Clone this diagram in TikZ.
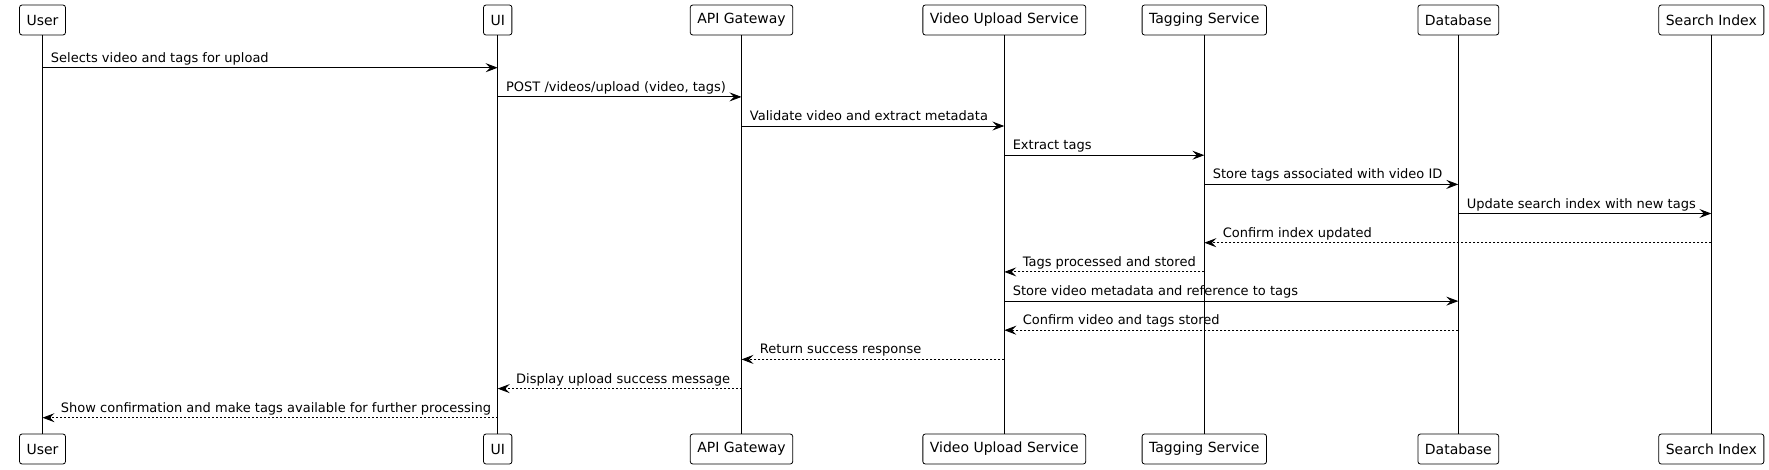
\documentclass[tikz,border=0pt]{standalone}
\usepackage{fontspec}
\setmainfont{DejaVu Sans}
\usetikzlibrary{arrows.meta}

\begin{document}
\begin{tikzpicture}[x=1pt, y=-1pt,
  actor/.style={draw, fill=white, rounded corners=2.5pt, minimum height=30pt, inner xsep=7pt, inner ysep=0pt, line width=0.8pt, font=\fontsize{14}{16}\selectfont},
  call/.style={-{Stealth[length=12pt, width=9pt, inset=4.5pt]}, line width=0.9pt},
  reply/.style={call, dash pattern=on 2pt off 2pt},
  fwd/.style={anchor=base west, inner sep=0pt, at start, xshift=8pt, yshift=5.5pt, font=\fontsize{13}{15}\selectfont},
  back/.style={anchor=base west, inner sep=0pt, at end, xshift=18pt, yshift=5.5pt, font=\fontsize{13}{15}\selectfont}]

\useasboundingbox (0,0) rectangle (1769,469);

\node [actor] (user) at (42.5,20) {User};
\node [actor] (ui) at (497.7,20) {UI};
\node [actor] (gw) at (741.5,20) {API Gateway};
\node [actor] (vus) at (1004.3,20) {Video Upload Service};
\node [actor] (tag) at (1204.3,20) {Tagging Service};
\node [actor] (db) at (1458.3,20) {Database};
\node [actor] (idx) at (1711.3,20) {Search Index};

\node [actor] (user2) at (42.5,449) {User};
\node [actor] (ui2) at (497.7,449) {UI};
\node [actor] (gw2) at (741.5,449) {API Gateway};
\node [actor] (vus2) at (1004.3,449) {Video Upload Service};
\node [actor] (tag2) at (1204.3,449) {Tagging Service};
\node [actor] (db2) at (1458.3,449) {Database};
\node [actor] (idx2) at (1711.3,449) {Search Index};

\draw [line width=0.8pt] (user) edge (user2);
\draw [line width=0.8pt] (ui) edge (ui2);
\draw [line width=0.8pt] (gw) edge (gw2);
\draw [line width=0.8pt] (vus) edge (vus2);
\draw [line width=0.8pt] (tag) edge (tag2);
\draw [line width=0.8pt] (db) edge (db2);
\draw [line width=0.8pt] (idx) edge (idx2);

\coordinate (m1) at (0,67.7);
\coordinate (m2) at (0,96.9);
\coordinate (m3) at (0,126);
\coordinate (m4) at (0,155.2);
\coordinate (m5) at (0,184.4);
\coordinate (m6) at (0,213.5);
\coordinate (m7) at (0,242.7);
\coordinate (m8) at (0,271.9);
\coordinate (m9) at (0,301.1);
\coordinate (m10) at (0,330.2);
\coordinate (m11) at (0,359.4);
\coordinate (m12) at (0,388.6);
\coordinate (m13) at (0,417.7);

\draw [call] (user |- m1) -- (ui |- m1) node [fwd] {Selects video and tags for upload};
\draw [call] (ui |- m2) -- (gw |- m2) node [fwd] {POST /videos/upload (video, tags)};
\draw [call] (gw |- m3) -- (vus |- m3) node [fwd] {Validate video and extract metadata};
\draw [call] (vus |- m4) -- (tag |- m4) node [fwd] {Extract tags};
\draw [call] (tag |- m5) -- (db |- m5) node [fwd] {Store tags associated with video ID};
\draw [call] (db |- m6) -- (idx |- m6) node [fwd] {Update search index with new tags};
\draw [reply] (idx |- m7) -- (tag |- m7) node [back] {Confirm index updated};
\draw [reply] (tag |- m8) -- (vus |- m8) node [back] {Tags processed and stored};
\draw [call] (vus |- m9) -- (db |- m9) node [fwd] {Store video metadata and reference to tags};
\draw [reply] (db |- m10) -- (vus |- m10) node [back] {Confirm video and tags stored};
\draw [reply] (vus |- m11) -- (gw |- m11) node [back] {Return success response};
\draw [reply] (gw |- m12) -- (ui |- m12) node [back] {Display upload success message};
\draw [reply] (ui |- m13) -- (user |- m13) node [back] {Show confirmation and make tags available for further processing};

\end{tikzpicture}
\end{document}
